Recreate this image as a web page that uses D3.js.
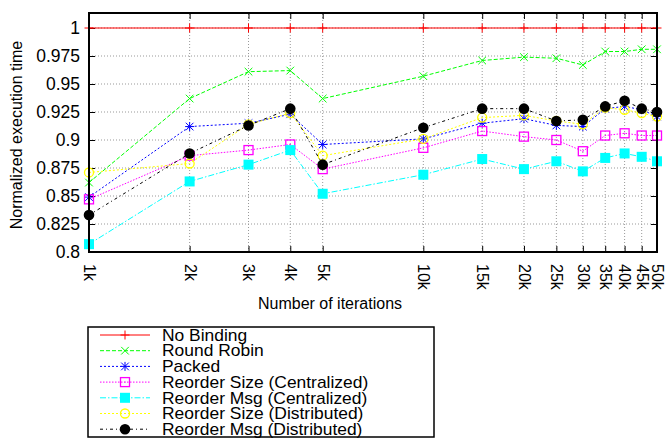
<!DOCTYPE html>
<html>
<head>
<meta charset="utf-8">
<script src="https://cdn.jsdelivr.net/npm/d3@7"></script>
<style>
  body { margin: 0; background: #fff; }
  text { font-family: "Liberation Sans", Arial, sans-serif; }
</style>
</head>
<body>
<div id="chart"></div>
<script>
// iterations and tick labels
const iterations = [1000, 2000, 3000, 4000, 5000, 10000, 15000, 20000, 25000, 30000, 35000, 40000, 45000, 50000];
const tickLabels = ["1k", "2k", "3k", "4k", "5k", "10k", "15k", "20k", "25k", "30k", "35k", "40k", "45k", "50k"];
const yTicks = [0.8, 0.825, 0.85, 0.875, 0.9, 0.925, 0.95, 0.975, 1];

// series values (normalized execution time)
const noBinding    = [1, 1, 1, 1, 1, 1, 1, 1, 1, 1, 1, 1, 1, 1];
const roundRobin   = [0.862, 0.937, 0.961, 0.962, 0.937, 0.957, 0.971, 0.974, 0.973, 0.967, 0.979, 0.979, 0.981, 0.981];
const packed       = [0.849, 0.912, 0.915, 0.923, 0.896, 0.901, 0.915, 0.919, 0.913, 0.912, 0.928, 0.930, 0.927, 0.921];
const sizeCentral  = [0.847, 0.886, 0.891, 0.896, 0.874, 0.893, 0.908, 0.903, 0.900, 0.890, 0.904, 0.906, 0.904, 0.904];
const msgCentral   = [0.807, 0.863, 0.878, 0.891, 0.852, 0.869, 0.883, 0.874, 0.881, 0.872, 0.884, 0.888, 0.885, 0.881];
const sizeDistrib  = [0.871, 0.879, 0.914, 0.924, 0.886, 0.901, 0.920, 0.922, 0.917, 0.914, 0.929, 0.927, 0.924, 0.921];
const msgDistrib   = [0.833, 0.888, 0.913, 0.928, 0.878, 0.911, 0.928, 0.928, 0.917, 0.918, 0.930, 0.935, 0.928, 0.925];

const series = [
  { name: "No Binding", values: noBinding, color: "#ff0000", dash: null, marker: "plus" },
  { name: "Round Robin", values: roundRobin, color: "#00ff00", dash: "4,2", marker: "cross" },
  { name: "Packed", values: packed, color: "#0000ff", dash: "2,2", marker: "star" },
  { name: "Reorder Size (Centralized)", values: sizeCentral, color: "#ff00ff", dash: "1.5,1.5", marker: "square" },
  { name: "Reorder Msg (Centralized)", values: msgCentral, color: "#00ffff", dash: "6,2,1.5,2", marker: "fsquare" },
  { name: "Reorder Size (Distributed)", values: sizeDistrib, color: "#ffff00", dash: "2,2", marker: "circle" },
  { name: "Reorder Msg (Distributed)", values: msgDistrib, color: "#000000", dash: "3,3,1,3", marker: "fcircle" }
];

const width = 667, height = 438;
const margin = { top: 13, right: 10, bottom: 186, left: 89 };

const svg = d3.select("#chart").append("svg")
  .attr("width", width)
  .attr("height", height);

const x = d3.scaleLog()
  .domain([1000, 50000])
  .range([margin.left, width - margin.right]);

const y = d3.scaleLinear()
  .domain([0.8, 1.0134])
  .range([height - margin.bottom, margin.top]);

const x0 = margin.left, x1 = width - margin.right;
const y0 = height - margin.bottom, y1 = margin.top;

// grid
const grid = svg.append("g").attr("stroke", "#999").attr("stroke-width", 1).attr("stroke-dasharray", "1,2");
grid.selectAll("line.gx").data(iterations.slice(1, -1)).enter().append("line")
  .attr("x1", d => x(d)).attr("x2", d => x(d)).attr("y1", y0).attr("y2", y1);
grid.selectAll("line.gy").data(yTicks.slice(1)).enter().append("line")
  .attr("x1", x0).attr("x2", x1).attr("y1", d => y(d)).attr("y2", d => y(d));

// axes with inward ticks, mirrored
const xAxis = svg.append("g")
  .attr("transform", `translate(0,${y0})`)
  .call(d3.axisBottom(x).tickValues(iterations).tickFormat((d, i) => tickLabels[i]).tickSizeInner(-6).tickSizeOuter(0));
xAxis.select(".domain").remove();
xAxis.selectAll("text")
  .attr("font-size", 16)
  .attr("text-anchor", "start")
  .attr("transform", "rotate(90)")
  .attr("x", 12).attr("y", 0).attr("dy", "0.35em");

svg.append("g")
  .attr("transform", `translate(0,${y1})`)
  .call(d3.axisTop(x).tickValues(iterations).tickFormat("").tickSizeInner(-6).tickSizeOuter(0))
  .select(".domain").remove();

const yAxis = svg.append("g")
  .attr("transform", `translate(${x0},0)`)
  .call(d3.axisLeft(y).tickValues(yTicks).tickFormat(d3.format("")).tickSizeInner(-6).tickSizeOuter(0).tickPadding(9));
yAxis.select(".domain").remove();
yAxis.selectAll("text").attr("font-size", 17.5);

svg.append("g")
  .attr("transform", `translate(${x1},0)`)
  .call(d3.axisRight(y).tickValues(yTicks).tickFormat("").tickSizeInner(-6).tickSizeOuter(0))
  .select(".domain").remove();

// markers
function drawMarker(g, type, color, cx, cy) {
  const s = 4.5;
  if (type === "plus" || type === "star") {
    g.append("line").attr("x1", cx - s).attr("x2", cx + s).attr("y1", cy).attr("y2", cy).attr("stroke", color);
    g.append("line").attr("x1", cx).attr("x2", cx).attr("y1", cy - s).attr("y2", cy + s).attr("stroke", color);
  }
  if (type === "cross" || type === "star") {
    const c = s * 0.85;
    g.append("line").attr("x1", cx - c).attr("x2", cx + c).attr("y1", cy - c).attr("y2", cy + c).attr("stroke", color);
    g.append("line").attr("x1", cx - c).attr("x2", cx + c).attr("y1", cy + c).attr("y2", cy - c).attr("stroke", color);
  }
  if (type === "square") {
    g.append("rect").attr("x", cx - 4.5).attr("y", cy - 4.5).attr("width", 9).attr("height", 9)
      .attr("fill", "none").attr("stroke", color).attr("stroke-width", 1.3);
    g.append("rect").attr("x", cx - 0.5).attr("y", cy - 0.5).attr("width", 1).attr("height", 1).attr("fill", color);
  }
  if (type === "fsquare") {
    g.append("rect").attr("x", cx - 5).attr("y", cy - 5).attr("width", 10).attr("height", 10).attr("fill", color);
  }
  if (type === "circle") {
    g.append("circle").attr("cx", cx).attr("cy", cy).attr("r", 4.5)
      .attr("fill", "none").attr("stroke", color).attr("stroke-width", 1.3);
  }
  if (type === "fcircle") {
    g.append("circle").attr("cx", cx).attr("cy", cy).attr("r", 5.3).attr("fill", color);
  }
}

const line = d3.line().x((d, i) => x(iterations[i])).y(d => y(d));

const plot = svg.append("g");
series.forEach(s => {
  plot.append("path")
    .datum(s.values)
    .attr("d", line)
    .attr("fill", "none")
    .attr("stroke", s.color)
    .attr("stroke-width", 1)
    .attr("stroke-dasharray", s.dash);
  const mg = plot.append("g");
  s.values.forEach((v, i) => drawMarker(mg, s.marker, s.color, x(iterations[i]), y(v)));
});

// border
svg.append("rect")
  .attr("x", x0).attr("y", y1).attr("width", x1 - x0).attr("height", y0 - y1)
  .attr("fill", "none").attr("stroke", "#000").attr("stroke-width", 2);

// axis labels
svg.append("text")
  .attr("transform", `translate(22,135) rotate(-90)`)
  .attr("text-anchor", "middle")
  .attr("font-size", 16)
  .text("Normalized execution time");

svg.append("text")
  .attr("x", 330).attr("y", 309)
  .attr("text-anchor", "middle")
  .attr("font-size", 16)
  .text("Number of iterations");

// legend
const legend = svg.append("g");
legend.append("rect")
  .attr("x", 88).attr("y", 327).attr("width", 346).attr("height", 110)
  .attr("fill", "#fff").attr("stroke", "#000").attr("stroke-width", 1.5);

series.forEach((s, i) => {
  const ly = 335 + i * 15.7;
  legend.append("line")
    .attr("x1", 100).attr("x2", 150).attr("y1", ly).attr("y2", ly)
    .attr("stroke", s.color).attr("stroke-width", 1).attr("stroke-dasharray", s.dash);
  drawMarker(legend, s.marker, s.color, 125, ly);
  legend.append("text")
    .attr("transform", `translate(162,${ly}) scale(1.09,1)`)
    .attr("dy", "0.36em")
    .attr("font-size", 16)
    .text(s.name);
});
</script>
</body>
</html>
